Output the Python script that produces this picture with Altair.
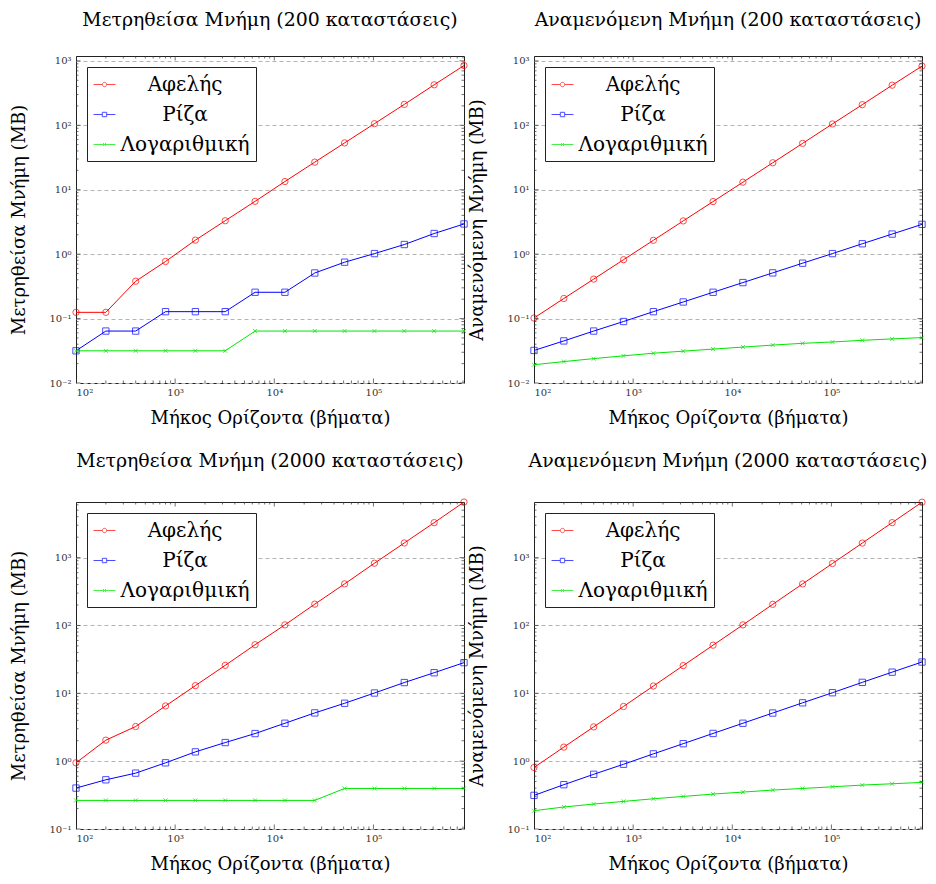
import altair as alt
import pandas as pd

steps = [100, 200, 400, 800, 1600, 3200, 6400, 12800, 25600, 51200, 102400, 204800, 409600, 819200]
series_names = ["Αφελής", "Ρίζα", "Λογαριθμική"]
colors = ["#ff0000", "#0000ff", "#00e600"]

# Measured memory, 200 states
m200_naive = [0.125, 0.125, 0.38, 0.77, 1.65, 3.3, 6.6, 13.4, 26.8, 53.3, 106, 211, 425, 847]
m200_sqrt = [0.0316, 0.064, 0.064, 0.128, 0.128, 0.128, 0.256, 0.256, 0.51, 0.75, 1.02, 1.41, 2.09, 2.94]
m200_log = [0.0316, 0.0316, 0.0316, 0.0316, 0.0316, 0.0316, 0.064, 0.064, 0.064, 0.064, 0.064, 0.064, 0.064, 0.064]
# Expected memory, 200 states
e200_naive = [0.102, 0.205, 0.41, 0.82, 1.64, 3.28, 6.55, 13.1, 26.2, 52.4, 105, 209, 419, 830]
e200_sqrt = [0.032, 0.045, 0.064, 0.09, 0.128, 0.181, 0.256, 0.362, 0.512, 0.724, 1.02, 1.45, 2.05, 2.9]
e200_log = [0.0192, 0.0215, 0.0239, 0.0264, 0.029, 0.0312, 0.0336, 0.0361, 0.0388, 0.0413, 0.0433, 0.046, 0.0483, 0.0507]
# Measured memory, 2000 states
m2000_naive = [0.945, 2.04, 3.24, 6.51, 12.97, 25.8, 52, 102, 206, 410, 826, 1643, 3272, 6590]
m2000_sqrt = [0.401, 0.531, 0.666, 0.945, 1.37, 1.88, 2.55, 3.62, 5.14, 7.13, 10.1, 14.4, 20.1, 28.3]
m2000_log = [0.264, 0.264, 0.264, 0.264, 0.264, 0.264, 0.264, 0.264, 0.264, 0.396, 0.396, 0.396, 0.396, 0.396]
# Expected memory, 2000 states
e2000_naive = [0.807, 1.61, 3.2, 6.4, 12.8, 25.6, 51.2, 102, 205, 410, 819, 1638, 3277, 6554]
e2000_sqrt = [0.313, 0.45, 0.64, 0.9, 1.28, 1.81, 2.56, 3.62, 5.12, 7.24, 10.2, 14.5, 20.5, 28.9]
e2000_log = [0.186, 0.211, 0.233, 0.255, 0.279, 0.302, 0.327, 0.35, 0.375, 0.396, 0.419, 0.444, 0.464, 0.486]

x_major = [100, 1000, 10000, 100000]
x_minor = [200, 300, 400, 500, 600, 700, 800, 900,
           2000, 3000, 4000, 5000, 6000, 7000, 8000, 9000,
           20000, 30000, 40000, 50000, 60000, 70000, 80000, 90000,
           200000, 300000, 400000, 500000, 600000, 700000, 800000]

FONT = "DejaVu Serif"
W, H = 388, 327

SUP = ("(round(log(datum.value)/LN10)==-2?'⁻²':round(log(datum.value)/LN10)==-1?'⁻¹':"
       "round(log(datum.value)/LN10)==0?'⁰':round(log(datum.value)/LN10)==1?'¹':"
       "round(log(datum.value)/LN10)==2?'²':round(log(datum.value)/LN10)==3?'³':"
       "round(log(datum.value)/LN10)==4?'⁴':'⁵')")
LABEL_EXPR = "'10' + " + SUP

P_CIRCLE = "M-1,0H-0.2M0.2,0H1M0.2,0A0.2,0.2,0,1,1,-0.2,0A0.2,0.2,0,1,1,0.2,0Z"
P_SQUARE = "M-1,0H-0.2M0.2,0H1M-0.2,-0.2H0.2V0.2H-0.2Z"
P_XLINE = "M-1,0H1M-0.13,-0.13L0.13,0.13M-0.13,0.13L0.13,-0.13"
P_X = "M-1,-1L1,1M-1,1L1,-1"


def panel(title, ytitle, naive, sqrt_, log_, ydom, ymajor):
    rows = []
    for name, vals in zip(series_names, [naive, sqrt_, log_]):
        for s, v in zip(steps, vals):
            rows.append({"steps": s, "mem": v, "series": name})
    df = pd.DataFrame(rows)

    ymin, ymax = ydom
    y_minor = [m * d for d in ymajor for m in range(2, 10) if ymin < m * d < ymax]

    x_enc = alt.X("steps:Q",
                  scale=alt.Scale(type="log", domain=[100, 819200], nice=False),
                  axis=alt.Axis(values=x_major, labelExpr=LABEL_EXPR, grid=False, ticks=False,
                                domain=False, title="Μήκος Ορίζοντα (βήματα)", labelPadding=4,
                                titlePadding=12))
    y_enc = alt.Y("mem:Q",
                  scale=alt.Scale(type="log", domain=[ymin, ymax], nice=False),
                  axis=alt.Axis(values=ymajor, labelExpr=LABEL_EXPR, grid=True, gridDash=[4, 3],
                                gridColor="#b4b4b4", ticks=False, domain=False, title=ytitle,
                                labelPadding=5, titlePadding=20))

    color = alt.Color("series:N", scale=alt.Scale(domain=series_names, range=colors), legend=None)

    base = alt.Chart(df)
    lines = base.mark_line(strokeWidth=1).encode(x=x_enc, y=y_enc, color=color, detail="series:N")
    shapes = ["circle", "square", P_X]
    sizes = [40, 40, 16]
    pts = []
    for name, shp, sz in zip(series_names, shapes, sizes):
        pts.append(base.transform_filter(alt.datum.series == name)
                   .mark_point(shape=shp, filled=False, size=sz, strokeWidth=1)
                   .encode(x=x_enc, y=y_enc, color=color))

    xt = pd.DataFrame({"steps": x_major + x_minor,
                       "len": [9] * len(x_major) + [5] * len(x_minor)})
    yt = pd.DataFrame({"mem": ymajor + y_minor,
                       "len": [9] * len(ymajor) + [5] * len(y_minor)})
    tick_layers = []
    for ypos in [0, H]:
        tick_layers.append(alt.Chart(xt).mark_tick(orient="vertical", clip=True, thickness=1,
                                                   color="#333333")
                           .encode(x=x_enc, y=alt.value(ypos), size=alt.Size("len:Q", scale=None)))
    for xpos in [0, W]:
        tick_layers.append(alt.Chart(yt).mark_tick(orient="horizontal", clip=True, thickness=1,
                                                   color="#333333")
                           .encode(y=y_enc, x=alt.value(xpos), size=alt.Size("len:Q", scale=None)))

    leg = alt.Legend(title=None, orient="top-left", offset=11, padding=6,
                     strokeColor="#222222", fillColor="white", cornerRadius=0,
                     labelFont=FONT, labelFontSize=20, labelColor="black",
                     labelAlign="center", labelOffset=69, symbolSize=480,
                     symbolStrokeWidth=1, rowPadding=8, symbolFillColor="transparent",
                     labelLimit=300)
    legend_layer = (alt.Chart(df).transform_filter("false").mark_point(filled=False)
                    .encode(shape=alt.Shape("series:N",
                                            scale=alt.Scale(domain=series_names,
                                                            range=[P_CIRCLE, P_SQUARE, P_XLINE]),
                                            legend=leg),
                            stroke=alt.Stroke("series:N",
                                              scale=alt.Scale(domain=series_names, range=colors),
                                              legend=leg)))

    return alt.layer(lines, *pts, *tick_layers, legend_layer).properties(
        width=W, height=H,
        title=alt.Title(title, font=FONT, fontSize=18.9, fontWeight="normal", offset=26,
                        color="black"))


dec_top = [0.01, 0.1, 1, 10, 100, 1000]
dec_bot = [0.1, 1, 10, 100, 1000]

p1 = panel("Μετρηθείσα Μνήμη (200 καταστάσεις)", "Μετρηθείσα Μνήμη (MB)",
           m200_naive, m200_sqrt, m200_log, (0.01, 1190), dec_top)
p2 = panel("Αναμενόμενη Μνήμη (200 καταστάσεις)", "Αναμενόμενη Μνήμη (MB)",
           e200_naive, e200_sqrt, e200_log, (0.01, 1190), dec_top)
p3 = panel("Μετρηθείσα Μνήμη (2000 καταστάσεις)", "Μετρηθείσα Μνήμη (MB)",
           m2000_naive, m2000_sqrt, m2000_log, (0.1, 6600), dec_bot)
p4 = panel("Αναμενόμενη Μνήμη (2000 καταστάσεις)", "Αναμενόμενη Μνήμη (MB)",
           e2000_naive, e2000_sqrt, e2000_log, (0.1, 6600), dec_bot)

chart = alt.concat(p1, p2, p3, p4, columns=2,
                   spacing=alt.RowColnumber(row=119, column=70)).properties(
    bounds="flush",
    padding={"left": 2, "top": 2, "right": 0, "bottom": 0}
).resolve_scale(
    shape="independent", stroke="independent"
).resolve_legend(
    shape="independent", stroke="independent"
).configure(background="white").configure_view(
    stroke="#222222", strokeWidth=1
).configure_axis(
    labelFont=FONT, labelFontSize=10, labelColor="#333333",
    titleFont=FONT, titleFontSize=18, titleFontWeight="normal", titleColor="black"
)

chart.save("out.html", embed_options={"renderer": "svg", "actions": False})
